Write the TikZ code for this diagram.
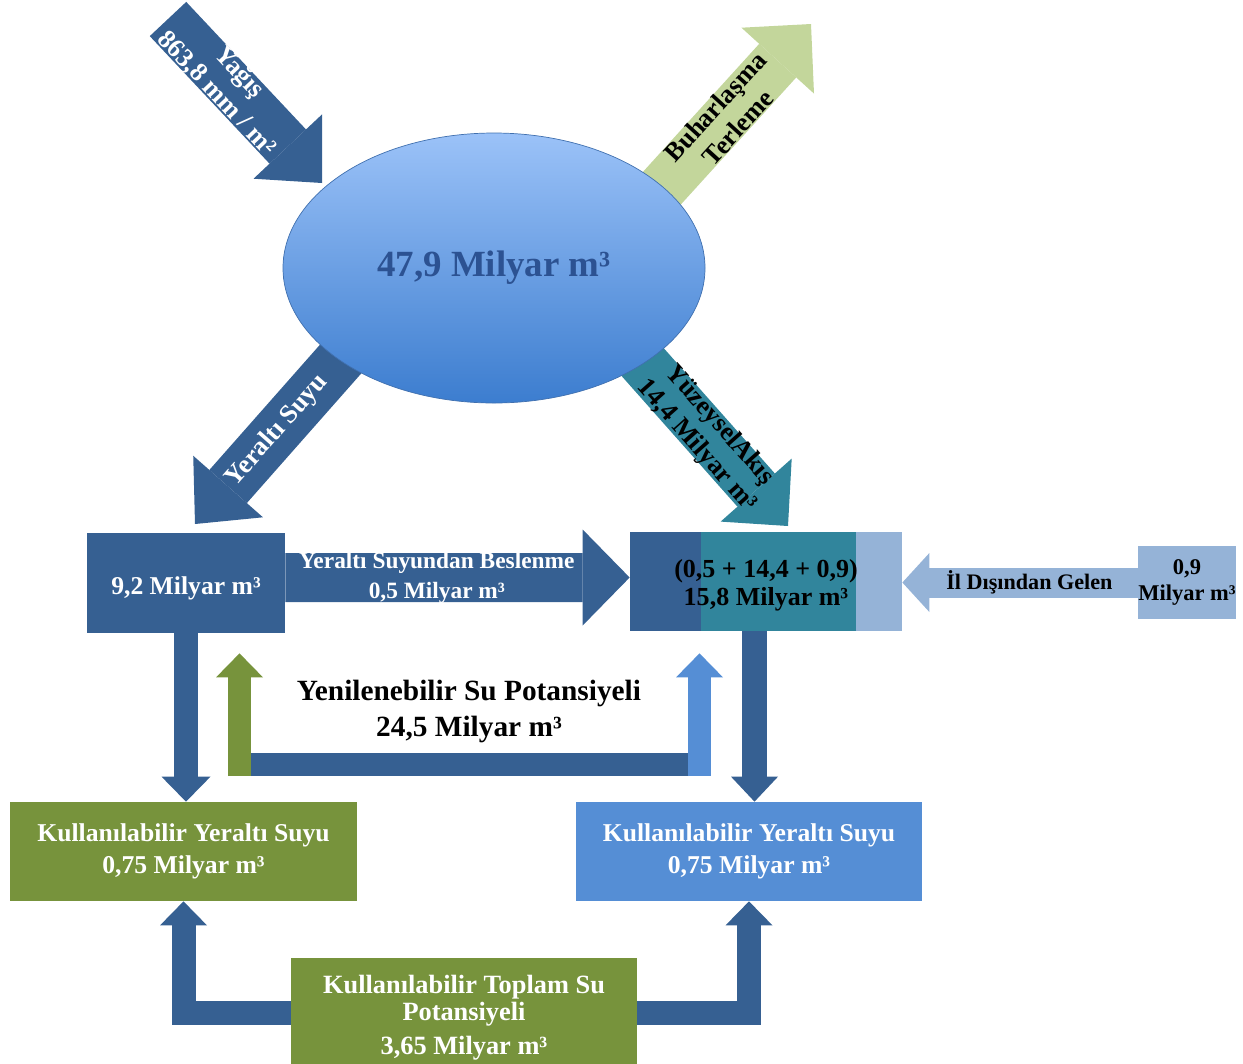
\documentclass[tikz,border=0pt]{standalone}
\usepackage{fontspec}
\setmainfont{Liberation Serif}
\usetikzlibrary{arrows.meta,shapes.geometric,backgrounds,positioning,calc}

\definecolor{navy}{RGB}{54,96,146}
\definecolor{tealc}{RGB}{49,133,156}
\definecolor{paleblue}{RGB}{149,179,215}
\definecolor{oliveg}{RGB}{119,147,60}
\definecolor{sage}{RGB}{195,214,155}
\definecolor{midblue}{RGB}{85,142,213}
\definecolor{elltop}{RGB}{155,194,248}
\definecolor{ellbot}{RGB}{60,125,207}
\definecolor{ellline}{RGB}{64,112,175}
\definecolor{elltext}{RGB}{44,82,146}

\begin{document}
\begin{tikzpicture}[x=0.2mm, y=-0.2mm,
fat/.style n args={3}{line width=#1, -{Triangle[width=#2,length=#3,line width=0pt]}},
box/.style={rectangle, inner sep=0pt, align=center, text=white, font=\bfseries\fontsize{14.6}{18.5}\selectfont},
onarrow/.style={sloped, align=center, font=\bfseries\fontsize{15}{17.5}\selectfont}
]
\useasboundingbox (0,0) rectangle (1243,1063);

% the basin
\node[ellipse, draw=ellline, top color=elltop, bottom color=ellbot, minimum width=84.4mm, minimum height=54mm, text=elltext, font=\bfseries\fontsize{21}{24}\selectfont] (ell) at (494,268) {47,9 Milyar m³};

% middle row
\node[box, fill=navy, minimum width=39.6mm, minimum height=20mm] (lbox) at (186,583) {\rule{0pt}{5.9mm}9,2 Milyar m³};
\node[box, minimum width=54.4mm, minimum height=19.8mm, text=black, font=\bfseries\fontsize{14.8}{16}\selectfont] (sbox) at (766,581.5) {\rule{0pt}{5.2mm}(0,5 + 14,4 + 0,9)\\15,8 Milyar m³};
\node[box, fill=paleblue, minimum width=19.6mm, minimum height=14.6mm, text=black, font=\bfseries\fontsize{12.8}{15}\selectfont] (xbox) at (1187,582.5) {0,9\\Milyar m³};

% lower rows
\node[box, fill=oliveg, minimum width=69.4mm, minimum height=19.8mm] (gbox) at (183.5,851.5) {Kullanılabilir Yeraltı Suyu\\0,75 Milyar m³};
\node[box, fill=midblue, minimum width=69.2mm, minimum height=19.8mm] (bbox) at (749,851.5) {Kullanılabilir Yeraltı Suyu\\0,75 Milyar m³};
\node[box, fill=oliveg, minimum width=69.2mm, minimum height=23.8mm, font=\bfseries\fontsize{15}{15.5}\selectfont] (tbox) at (464,1017.5) {Kullanılabilir Toplam Su\\Potansiyeli\\[3.5pt]3,65 Milyar m³};
\node[align=center, font=\bfseries\fontsize{16.7}{20.5}\selectfont] (ren) at (469,711) {Yenilenebilir Su Potansiyeli\\24,5 Milyar m³};

\coordinate (yagT) at (168,19);
\coordinate (yagH) at (322,183);
\coordinate (buhT) at (623,231);
\coordinate (buhH) at (811,24);
\coordinate (yasT) at (406,285);
\coordinate (yasH) at (195,524);
\coordinate (yuzT) at (577,288);
\coordinate (yuzH) at (788,526);
\coordinate (renL) at (239.5,776);
\coordinate (renR) at (699.5,776);
\coordinate (renLtip) at ($(renL |- lbox.south)+(0,20)$);
\coordinate (renRtip) at ($(renR |- sbox.south)+(0,22)$);
\coordinate (sdn) at ($(sbox.south)+(-11.5,0)$);

\begin{scope}[on background layer]
    \fill[navy] (sbox.north west) rectangle ($(sbox.south west)+(71,0)$);
    \fill[tealc] ($(sbox.north west)+(71,0)$) rectangle ($(sbox.south east)+(-46,0)$);
    \fill[paleblue] ($(sbox.north east)+(-46,0)$) rectangle (sbox.south east);

    \draw[fat={10mm}{18.8mm}{10mm}, navy] (yagT) -- (yagH) node[onarrow, pos=.39, text=white] {Yağış\\863,8 mm / m²};
    \draw[fat={10mm}{19.6mm}{9.9mm}, sage] (buhT) -- (buhH) node[onarrow, pos=.55, text=black] {Buharlaşma\\Terleme};
    \draw[fat={10mm}{18.6mm}{10mm}, navy] (yasT) -- (yasH) node[onarrow, pos=.61, text=white] {Yeraltı Suyu};
    \draw[fat={10mm}{19mm}{9.6mm}, tealc] (yuzT) -- (yuzH) node[onarrow, pos=.62, text=black] {YüzeyselAkış\\14,4 Milyar m³};

    \draw[fat={9.8mm}{19.2mm}{9.4mm}, navy] ($(lbox.east)+(0,-5.5)$) -- ($(sbox.west)+(0,-4)$) node[pos=.44, align=center, text=white, font=\bfseries\fontsize{13.3}{17}\selectfont] {Yeraltı Suyundan Beslenme\\0,5 Milyar m³};
    \draw[fat={6mm}{11.8mm}{5.4mm}, paleblue] (xbox.west) -- (xbox.west -| sbox.east) node[pos=.46, text=black, font=\bfseries\fontsize{12.6}{15}\selectfont] {İl Dışından Gelen};

    \draw[fat={4.8mm}{9.8mm}{5mm}, navy] (lbox.south) -- (lbox.south |- gbox.north);
    \draw[fat={5mm}{9.4mm}{5mm}, navy] (sdn) -- (sdn |- bbox.north);

    \draw[navy, line width=4.6mm] ($(renL)+(0,-11.5)$) -- ($(renR)+(0,-11.5)$);
    \draw[fat={4.6mm}{9.4mm}{4.8mm}, oliveg] (renL) -- (renLtip);
    \draw[fat={4.6mm}{9.4mm}{4.8mm}, midblue] (renR) -- (renRtip);

    \draw[fat={4.8mm}{9.4mm}{4.8mm}, navy] ($(tbox.west)+(0,-4.5)$) -| (gbox.south);
    \draw[fat={4.8mm}{9.4mm}{4.8mm}, navy] ($(tbox.east)+(0,-4.5)$) -| (bbox.south);
\end{scope}
\end{tikzpicture}
\end{document}
